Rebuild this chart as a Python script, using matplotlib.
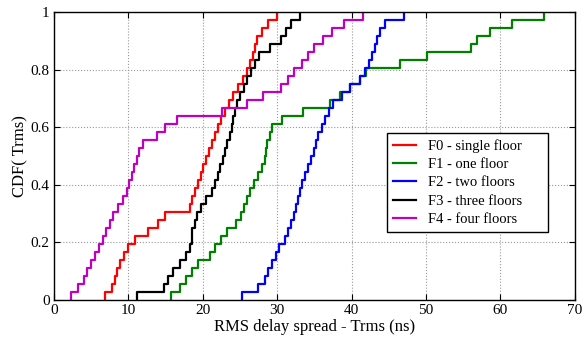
import numpy as np
import matplotlib
matplotlib.use("Agg")
import matplotlib.pyplot as plt

# RMS delay spread samples (ns)
f0_single = [6.9, 7.8, 8.2, 8.5, 8.9, 9.4, 10.0, 10.9, 12.7, 14.0, 14.9, 18.3,
             18.6, 18.9, 19.3, 19.7, 20.0, 20.4, 20.8, 21.2, 21.6, 22.0, 22.5, 23.0,
             23.5, 24.1, 24.8, 25.4, 25.9, 26.3, 26.7, 27.0, 27.3, 28.0, 28.8, 30.0]
f1_one = [15.8, 17.0, 17.8, 18.5, 19.3, 21.0, 21.7, 22.5, 23.3, 24.5, 25.2, 25.6,
          26.0, 26.4, 26.9, 27.4, 27.9, 28.3, 28.5, 28.6, 29.0, 29.3, 30.7, 33.5,
          37.1, 38.5, 39.8, 41.1, 42.0, 46.5, 50.1, 56.1, 56.8, 58.6, 61.5, 65.8]
f2_two = [25.3, 27.4, 28.4, 28.8, 29.3, 29.9, 30.3, 31.0, 31.4, 31.8, 32.2, 32.5,
          32.8, 33.0, 33.3, 33.7, 34.2, 34.6, 34.9, 35.2, 35.5, 36.0, 36.4, 37.0,
          37.5, 38.7, 39.8, 41.1, 41.8, 42.4, 42.8, 43.1, 43.4, 43.8, 44.5, 47.0]
f3_three = [11.1, 14.8, 15.3, 16.0, 16.9, 17.8, 18.3, 18.5, 18.6, 18.9, 19.2, 19.8,
            20.5, 21.2, 21.6, 22.0, 22.3, 22.7, 23.0, 23.3, 23.6, 23.9, 24.1, 24.3,
            24.6, 25.0, 25.6, 26.0, 26.5, 27.0, 27.6, 29.0, 30.5, 31.2, 31.9, 33.0]
f4_four = [2.3, 3.3, 4.0, 4.5, 5.0, 5.5, 6.0, 6.6, 7.0, 7.5, 8.0, 8.6,
           9.3, 9.8, 10.1, 10.5, 10.8, 11.2, 11.5, 12.0, 13.8, 14.9, 16.5, 22.6,
           25.9, 28.1, 30.5, 31.5, 32.3, 33.3, 34.2, 35.0, 36.2, 37.3, 39.0, 41.5]

labels = ["F0 - single floor", "F1 - one floor", "F2 - two floors",
          "F3 - three floors", "F4 - four floors"]
colors = ["#ff0000", "#008000", "#0000ff", "#000000", "#c000c0"]

plt.rcParams['font.family'] = ['Liberation Serif', 'DejaVu Serif']

fig = plt.figure(figsize=(5.86, 3.38), dpi=100)
ax = fig.add_axes([0.092, 0.1124, 0.889, 0.852])

for data, lab, col in zip([f0_single, f1_one, f2_two, f3_three, f4_four], labels, colors):
    x = np.sort(np.asarray(data))
    y = np.arange(1, len(x) + 1) / len(x)
    # empirical CDF, starting on the x axis at the smallest sample
    xs = np.concatenate([[x[0]], x])
    ys = np.concatenate([[0.0], y])
    ax.step(xs, ys, where='post', color=col, lw=1.6, label=lab)

ax.set_xlim(0, 70)
ax.set_ylim(0, 1)
ax.set_xticks(np.arange(0, 71, 10))
ax.set_yticks([0, 0.2, 0.4, 0.6, 0.8, 1])
ax.set_yticklabels(["0", "0.2", "0.4", "0.6", "0.8", "1"])
ax.tick_params(direction='in', top=True, right=True, labelsize=11, length=4, pad=3)
ax.grid(True, color='#999999', linestyle=':', linewidth=0.8)
for s in ax.spines.values():
    s.set_linewidth(1.0)

ax.set_xlabel("RMS delay spread - Trms (ns)", fontsize=12, labelpad=1)
ax.set_ylabel("CDF( Trms)", fontsize=12, labelpad=2)

leg = ax.legend(loc='lower left', bbox_to_anchor=(0.639, 0.237, 0.309, 0.336),
                mode='expand', fontsize=10.5, handlelength=1.6, handletextpad=0.8,
                borderaxespad=0, labelspacing=0.35, fancybox=False, framealpha=1)
leg.get_frame().set_edgecolor('black')
leg.get_frame().set_linewidth(1.0)

fig.savefig("out.png", dpi=100)
